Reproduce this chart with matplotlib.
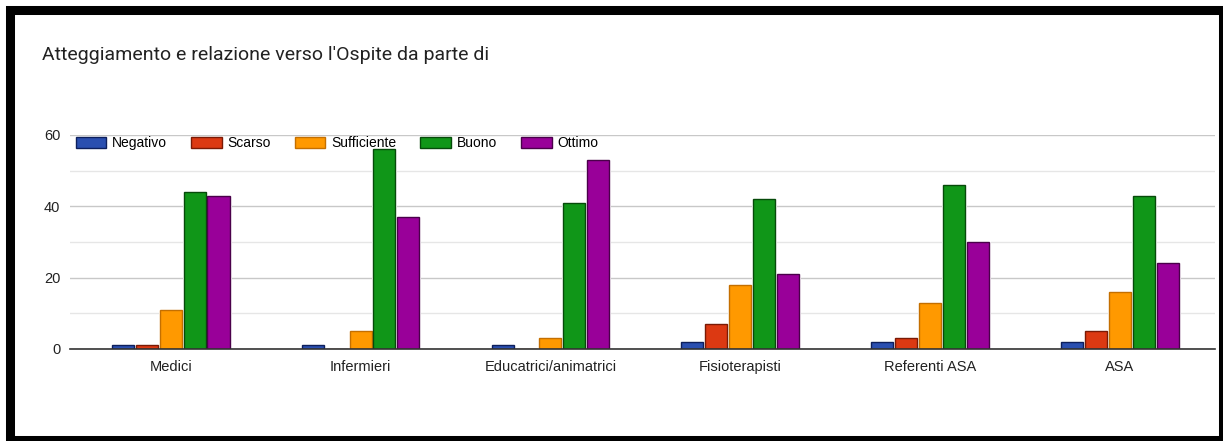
import numpy as np
import matplotlib.pyplot as plt
from matplotlib.patches import Rectangle


categorie = ["Medici", "Infermieri", "Educatrici/animatrici", "Fisioterapisti", "Referenti ASA", "ASA"]
serie = ["Negativo", "Scarso", "Sufficiente", "Buono", "Ottimo"]
negativo = [1, 1, 1, 2, 2, 2]
scarso = [1, 0, 0, 7, 3, 5]
sufficiente = [11, 5, 3, 18, 13, 16]
buono = [44, 56, 41, 42, 46, 43]
ottimo = [43, 37, 53, 21, 30, 24]
y_ticks = [0, 20, 40, 60]

colori = ["#2a4fb0", "#dc3912", "#ff9900", "#109618", "#990099"]
bordi = ["#0d1f5c", "#7a1a05", "#c46f00", "#064a0a", "#4a004a"]


if __name__ == "__main__":
    plt.rcParams['font.family'] = ['Liberation Sans', 'DejaVu Sans']
    fig = plt.figure(figsize=(12.23, 4.41), dpi=100)
    ax = fig.add_axes([70/1223, 92/441, (1215-70)/1223, 214/441])

    x = np.arange(len(categorie))
    valori = [negativo, scarso, sufficiente, buono, ottimo]
    passo = 0.126
    larghezza = 0.116
    for i in range(len(serie)):
        pos = x + (i - 2) * passo
        # alone bianco attorno alle barre
        ax.bar(pos, valori[i], larghezza, color=colori[i], edgecolor="white", linewidth=2.2, zorder=3)
        ax.bar(pos, valori[i], larghezza, color=colori[i], edgecolor=bordi[i], linewidth=1.0,
               label=serie[i], zorder=4)

    ax.set_xlim(-0.53, 5.5)
    ax.set_ylim(0, 60)
    ax.set_yticks(y_ticks)
    ax.set_yticks([10, 30, 50], minor=True)
    ax.set_xticks(x)
    ax.set_xticklabels(categorie)
    ax.grid(axis="y", which="major", color="#c8c8c8", linewidth=1.0, zorder=0)
    ax.grid(axis="y", which="minor", color="#e6e6e6", linewidth=1.0, zorder=0)
    ax.tick_params(axis="both", which="both", length=0, labelsize=10.5, labelcolor="#222222")
    ax.tick_params(axis="x", pad=8)
    ax.tick_params(axis="y", pad=7)
    for s in ["top", "right", "left"]:
        ax.spines[s].set_visible(False)
    ax.spines["bottom"].set_color("#333333")
    ax.spines["bottom"].set_linewidth(1.2)
    ax.spines["bottom"].set_zorder(5)

    leg = ax.legend(ncol=5, loc="upper left", bbox_to_anchor=(0.0, 1.02), frameon=False,
                    fontsize=10, handlelength=2.2, handleheight=0.9, columnspacing=1.75,
                    handletextpad=0.4, borderaxespad=0)

    fig.text(42/1223, 1 - 55/441, "Atteggiamento e relazione verso l'Ospite da parte di",
             fontsize=14, family=["Roboto", "DejaVu Sans"], color="#222222", va="center")

    # cornice nera
    fig.patches.append(Rectangle((10.5/1223, 1.5/441), (1222.5-10.5)/1223, (431-1.5)/441,
                                 transform=fig.transFigure, fill=False, edgecolor="black",
                                 linewidth=6.5, zorder=10))

    fig.savefig("out.png", dpi=100)
